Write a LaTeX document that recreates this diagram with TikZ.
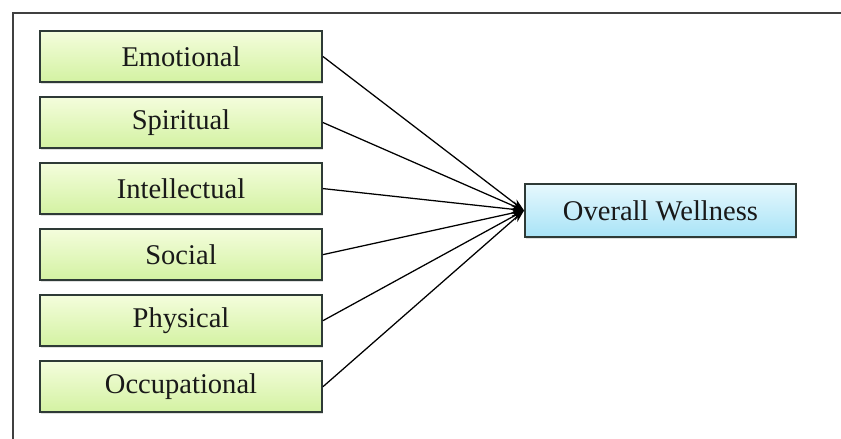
\documentclass[tikz,border=0pt]{standalone}
\usepackage{fontspec}
\setmainfont{Liberation Serif}
\usetikzlibrary{positioning,arrows.meta,shadows}
\definecolor{greentop}{HTML}{F4FDDC}
\definecolor{greenbot}{HTML}{D3F2A2}
\definecolor{bluetop}{HTML}{E6F8FD}
\definecolor{bluebot}{HTML}{A8E3F7}
\definecolor{edgegray}{HTML}{2E3A36}
\begin{document}
\begin{tikzpicture}
		[x=0.025cm,y=-0.025cm,
		node distance=0.33cm,
		factor/.style={draw=edgegray,line width=1.3pt,
			top color=greentop,bottom color=greenbot,
			minimum width=7.05cm,minimum height=1.275cm,
			font=\fontsize{20.3}{24}\selectfont,text=black!90,
			drop shadow={shadow xshift=1pt,shadow yshift=-1.2pt,opacity=0.25}},
		outcome/.style={factor,top color=bluetop,bottom color=bluebot,
			minimum width=6.775cm,minimum height=1.325cm},
		link/.style={-{Stealth[length=9pt,width=6pt]},line width=0.9pt}]
		\useasboundingbox (0,0) rectangle (841,439);
		% frame
		\draw[black!75,line width=1.6pt] (13,439) -- (13,13) -- (841,13);
		% factors
		\node[factor] (emo) at (181,56.5) {Emotional};
		\node[factor,below=of emo] (spi) {Spiritual};
		\node[factor,below=of spi] (int) {Intellectual};
		\node[factor,below=of int] (soc) {Social};
		\node[factor,below=of soc] (phy) {Physical};
		\node[factor,below=of phy] (occ) {Occupational};
		% outcome
		\node[outcome] (well) at (660.5,210.5) {Overall Wellness};
		\foreach \f in {emo,spi,int,soc,phy,occ}
		\draw[link] (\f.east) -- (well.west);
	\end{tikzpicture}
\end{document}
